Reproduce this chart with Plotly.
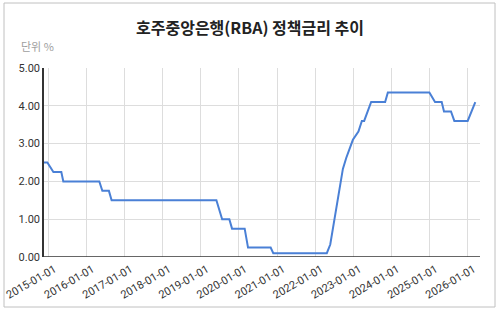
import plotly.graph_objects as go

dates = ["2014-11-20", "2014-12-22", "2015-02-18", "2015-05-05", "2015-05-24",
         "2016-05-03", "2016-06-01", "2016-08-03", "2016-08-29", "2019-05-30",
         "2019-07-24", "2019-10-01", "2019-10-27", "2020-02-25", "2020-03-28",
         "2020-10-31", "2020-11-25", "2022-04-22", "2022-05-25", "2022-09-23",
         "2022-10-25", "2022-12-28", "2023-02-19", "2023-03-24", "2023-04-15",
         "2023-06-21", "2023-11-02", "2023-11-28", "2024-12-30", "2025-02-22",
         "2025-04-27", "2025-05-19", "2025-07-25", "2025-08-26", "2026-01-01",
         "2026-03-15"]
rates = [2.50, 2.50, 2.25, 2.25, 2.00,
         2.00, 1.75, 1.75, 1.50, 1.50,
         1.00, 1.00, 0.75, 0.75, 0.25,
         0.25, 0.10, 0.10, 0.33, 2.33,
         2.62, 3.10, 3.32, 3.60, 3.60,
         4.10, 4.10, 4.35, 4.35, 4.10,
         4.10, 3.85, 3.85, 3.60, 3.60,
         4.10]

tick_dates = ["2015-01-01", "2016-01-01", "2017-01-01", "2018-01-01", "2019-01-01",
              "2020-01-01", "2021-01-01", "2022-01-01", "2023-01-01", "2024-01-01",
              "2025-01-01", "2026-01-01"]
y_ticks = [0, 1, 2, 3, 4, 5]

title_text = "호주중앙은행(RBA) 정책금리 추이"
unit_text = "단위 %"

font_family = "Noto Sans CJK KR, Roboto, sans-serif"
tick_family = "Roboto, Noto Sans, sans-serif"

W, H = 500, 311
ML, MR, MT, MB = 44, 20, 68, 54
pw = W - ML - MR
ph = H - MT - MB


def px_x(x):
    return (x - ML) / pw


def px_y(y):
    return (H - MB - y) / ph


fig = go.Figure()
fig.add_trace(go.Scatter(
    x=dates, y=rates, mode="lines",
    line=dict(color="#4a80d6", width=2),
    hoverinfo="skip", showlegend=False,
))

fig.update_layout(
    width=W, height=H,
    margin=dict(l=ML, r=MR, t=MT, b=MB, autoexpand=False),
    paper_bgcolor="white", plot_bgcolor="white",
    font=dict(family=font_family, color="#444", size=11),
    showlegend=False,
    xaxis=dict(
        type="date",
        range=["2014-11-20", "2026-04-29"],
        tickvals=tick_dates, ticktext=tick_dates,
        tickangle=-30,
        ticklabeloverflow="allow",
        ticklabelshift=6,
        ticklabelstandoff=3,
        automargin=False,
        showgrid=True, gridcolor="#dddddd", gridwidth=1,
        showline=False, zeroline=False,
        ticks="", tickfont=dict(size=11, color="#333", family=tick_family),
    ),
    yaxis=dict(
        range=[0, 5],
        tickvals=y_ticks,
        ticktext=[f"{v:.2f}" for v in y_ticks],
        automargin=False,
        showgrid=True, gridcolor="#dddddd", gridwidth=1,
        showline=True, linecolor="#333", linewidth=1.5,
        zeroline=False, ticks="",
        tickfont=dict(size=11, color="#333", family=tick_family),
    ),
    annotations=[
        dict(text="<b>" + title_text + "</b>", x=px_x(250), y=px_y(27),
             xref="paper", yref="paper", showarrow=False,
             font=dict(size=16, color="#222", family=font_family),
             xanchor="center", yanchor="middle"),
        dict(text=unit_text, x=px_x(19), y=px_y(46), xref="paper", yref="paper",
             showarrow=False, font=dict(size=11, color="#9e9e9e", family=font_family),
             xanchor="left", yanchor="middle"),
    ],
    shapes=[
        dict(type="line", xref="paper", yref="y", x0=0, x1=1, y0=0, y1=0,
             line=dict(color="#333", width=1.5)),
        dict(type="rect", xref="paper", yref="paper",
             x0=px_x(4), x1=px_x(495), y0=px_y(307), y1=px_y(3),
             line=dict(color="#c0c0c0", width=1), layer="below"),
    ],
)

fig.write_html("out.html")
